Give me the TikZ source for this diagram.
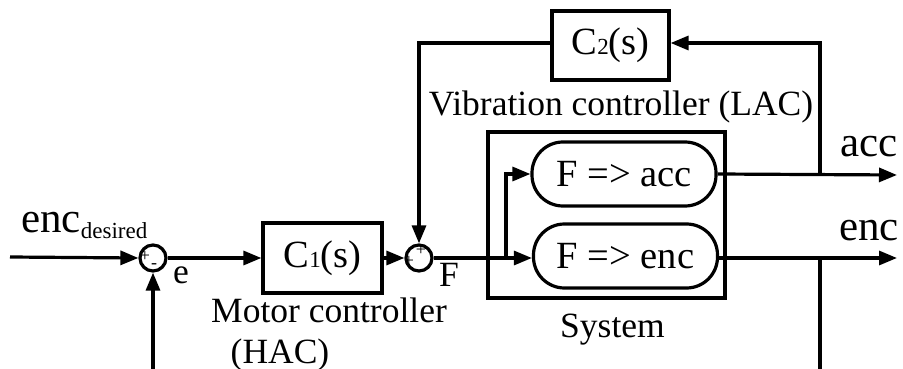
\documentclass[tikz,border=0pt]{standalone}
\usepackage{fontspec}
\setmainfont{Liberation Serif}
\usetikzlibrary{arrows.meta}
\begin{document}
\begin{tikzpicture}[x=1pt,y=-1pt,
  lw/.style={line width=3.2pt},
  blk/.style={draw,lw,inner sep=0pt,font=\fontsize{38.5}{42}\selectfont},
  sumc/.style={draw,lw,circle,minimum size=26pt,inner sep=0pt},
  sysblk/.style={draw,lw,rounded corners=31pt,minimum width=184pt,minimum height=64pt,inner sep=0pt,font=\fontsize{38.5}{42}\selectfont},
  lbl/.style={inner sep=0pt,font=\fontsize{35.5}{40}\selectfont},
  biglbl/.style={inner sep=0pt,font=\fontsize{43}{46}\selectfont},
  sgn/.style={inner sep=0pt,font=\fontsize{18}{18}\selectfont},
  arr/.style={lw,-{Triangle[length=18pt,width=14pt]}},
  ln/.style={lw}]
\useasboundingbox (0,0) rectangle (903,369);
% blocks
\node[sumc] (s1) at (153,258) {};
\node[sumc] (s2) at (419,258) {};
\node[blk,minimum width=119pt,minimum height=70pt] (c1) at (322.5,258) {C{\fontsize{23}{23}\selectfont 1}(s)};
\node[blk,minimum width=117pt,minimum height=69pt] (c2) at (610.5,45.5) {C{\fontsize{23}{23}\selectfont 2}(s)};
\node[draw,lw,minimum width=237pt,minimum height=166pt,inner sep=0pt] (sys) at (606.5,215) {};
\node[sysblk] (pa) at (624,174) {F => acc};
\node[sysblk] (pe) at (625.5,256) {F => enc};
% signs
\node[sgn] at (145,256) {+};
\node[sgn] at (154,266) {-};
\node[sgn] at (409,261) {+};
\node[sgn] at (421,250) {+};
% coordinates
\coordinate (in) at (10,257);
\coordinate (fb1) at (153,369);
\coordinate (br) at (506,258);
\coordinate (ya) at (820,175);
\coordinate (ye) at (820,258);
\coordinate (top) at (820,43);
\coordinate (corner) at (419,43);
\coordinate (outa) at (897,175);
\coordinate (oute) at (897,258);
\coordinate (fb2) at (820,369);
% connectors
\draw[arr] (in) -- (s1.west);
\draw[arr] (fb1) -- (s1.south);
\draw[arr] (s1.east) -- (c1.west);
\draw[arr] (c1.east) -- (s2.west);
\draw[arr] (s2.east) -- (pe.west |- s2.east);
\draw[arr] (br) |- (pa.west);
\draw[arr] (pa.east) -- (outa);
\draw[arr] (pe.east |- ye) -- (oute);
\draw[arr] (ya) -- (top) -- (c2.east |- top);
\draw[arr] (c2.west |- corner) -- (corner) -- (s2.north);
\draw[ln] (ye) -- (fb2);
% labels
\node[biglbl,anchor=base west] (ed) at (21,232) {enc{\fontsize{23}{23}\selectfont\raisebox{-6pt}{desired}}};
\node[lbl,anchor=base west] (le) at (173,283) {e};
\node[lbl,anchor=base west] (lf) at (439,286) {F};
\node[lbl,anchor=base] (mc) at (329,322) {Motor controller};
\node[lbl,anchor=base] (hac) at (280,363) {(HAC)};
\node[lbl,anchor=base] (vc) at (621,116) {Vibration controller (LAC)};
\node[lbl,anchor=base] (sy) at (612.5,337) {System};
\node[biglbl,anchor=base east] (la) at (898,157) {acc};
\node[biglbl,anchor=base east] (len) at (899,240) {enc};
\end{tikzpicture}
\end{document}
